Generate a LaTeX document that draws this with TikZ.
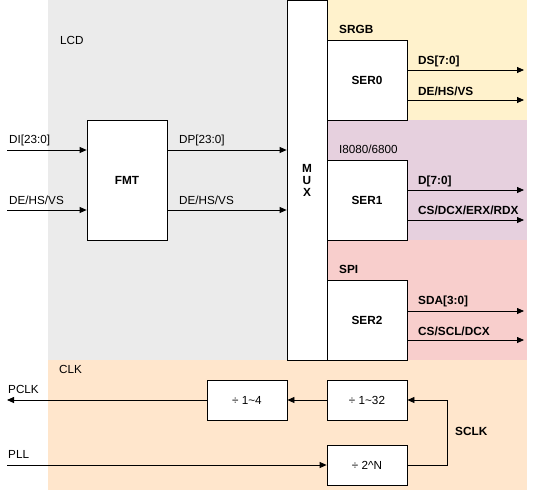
\documentclass[tikz,border=0pt]{standalone}
\usepackage{fontspec}
\setmainfont{Liberation Sans}
\usetikzlibrary{arrows.meta}

\definecolor{lcdgray}{HTML}{EBEBEB}
\definecolor{rgbyellow}{HTML}{FFF2CC}
\definecolor{mcupurple}{HTML}{E6D0DE}
\definecolor{spired}{HTML}{F8CECC}
\definecolor{clkorange}{HTML}{FFE6CC}

\begin{document}
\begin{tikzpicture}[x=1pt, y=-1pt, font=\fontsize{11.7}{12}\selectfont,
        blk/.style={draw, fill=white, line width=0.8pt, minimum width=80pt, minimum height=80pt, inner sep=0pt},
        bold/.style={font=\fontsize{11.8}{12}\selectfont\bfseries},
        lbl/.style={anchor=west, inner sep=0pt},
        sig/.style={-{Triangle[length=7pt,width=6pt]}, line width=0.8pt}
    ]
    \useasboundingbox (0,0) rectangle (534,492);

    % regions
    \fill[lcdgray] (48,0) rectangle (327,360);
    \fill[rgbyellow] (327,0) rectangle (527,120);
    \fill[mcupurple] (327,120) rectangle (527,240);
    \fill[spired] (327,240) rectangle (527,360);
    \fill[clkorange] (48,360) rectangle (527,490);

    % blocks
    \node[blk, minimum height=120pt, bold] (fmt) at (127,180) {FMT};
    \node[blk, minimum width=40pt, minimum height=360pt, align=center, bold] (mux) at (307,180) {M\\U\\X};
    \node[blk, bold] (ser0) at (367,80) {SER0};
    \node[blk, bold] (ser1) at (367,200) {SER1};
    \node[blk, bold] (ser2) at (367,320) {SER2};
    \node[blk, minimum height=40pt] (div4) at (247,400) {÷ 1\textasciitilde 4};
    \node[blk, minimum height=40pt] (div32) at (367,400) {÷ 1\textasciitilde 32};
    \node[blk, minimum height=40pt] (div2n) at (367,465) {÷ 2\textasciicircum N};

    % free ends
    \coordinate (di) at (7,150);
    \coordinate (dein) at (7,210);
    \coordinate (ds) at (524,70);
    \coordinate (rgbctl) at (524,100);
    \coordinate (d) at (524,190);
    \coordinate (mcuctl) at (524,220);
    \coordinate (sda) at (524,311);
    \coordinate (spictl) at (524,340);
    \coordinate (pclk) at (7,400);
    \coordinate (pll) at (7,465);
    \coordinate (sclk) at (447,465);

    % labels
    \node[lbl] (lcdlbl) at (60,40) {LCD};
    \node[lbl] (dilbl) at (9,140) {DI[23:0]};
    \node[lbl] (deinlbl) at (9,200) {DE/HS/VS};
    \node[lbl] (dplbl) at (179,140) {DP[23:0]};
    \node[lbl] (demidlbl) at (179,200) {DE/HS/VS};
    \node[lbl, bold] (rgblbl) at (339,29) {SRGB};
    \node[lbl, bold] (dslbl) at (418,61) {DS[7:0]};
    \node[lbl, bold] (rgbctllbl) at (418,91) {DE/HS/VS};
    \node[lbl] (mculbl) at (339,149) {I8080/6800};
    \node[lbl, bold] (dlbl) at (418,181) {D[7:0]};
    \node[lbl, bold] (mcuctllbl) at (418,210) {CS/DCX/ERX/RDX};
    \node[lbl, bold] (spilbl) at (339,269) {SPI};
    \node[lbl, bold] (sdalbl) at (418,301) {SDA[3:0]};
    \node[lbl, bold] (spictllbl) at (418,331) {CS/SCL/DCX};
    \node[lbl] (clklbl) at (59,369) {CLK};
    \node[lbl] (pclklbl) at (8,389) {PCLK};
    \node[lbl] (plllbl) at (8,454) {PLL};
    \node[lbl, bold] (sclklbl) at (455,431) {SCLK};

    % signals
    \path[sig] (di) edge (fmt.west |- di);
    \path[sig] (dein) edge (fmt.west |- dein);
    \path[sig] (fmt.east |- di) edge (mux.west |- di);
    \path[sig] (fmt.east |- dein) edge (mux.west |- dein);
    \path[sig] (ser0.east |- ds) edge (ds);
    \path[sig] (ser0.east |- rgbctl) edge (rgbctl);
    \path[sig] (ser1.east |- d) edge (d);
    \path[sig] (ser1.east |- mcuctl) edge (mcuctl);
    \path[sig] (ser2.east |- sda) edge (sda);
    \path[sig] (ser2.east |- spictl) edge (spictl);
    \path[sig] (div4) edge (pclk);
    \path[sig] (div32) edge (div4);
    \path[sig] (pll) edge (div2n);
    \draw[sig] (div2n) -- (sclk) |- (div32);
\end{tikzpicture}
\end{document}
